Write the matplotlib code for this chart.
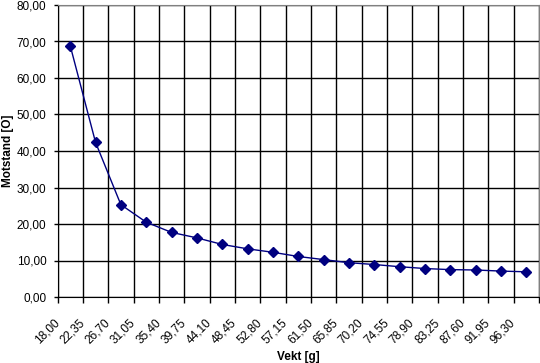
import numpy as np
import matplotlib
matplotlib.use("Agg")
import matplotlib.pyplot as plt
import matplotlib.transforms as mtransforms

plt.rcParams['font.family'] = ['Liberation Sans', 'DejaVu Sans']

# Data
vekt = ["18,00", "22,35", "26,70", "31,05", "35,40", "39,75", "44,10",
        "48,45", "52,80", "57,15", "61,50", "65,85", "70,20", "74,55",
        "78,90", "83,25", "87,60", "91,95", "96,30"]
motstand = [68.9, 42.4, 25.3, 20.5, 17.7, 16.2, 14.4, 13.2, 12.25, 11.1,
            10.25, 9.4, 8.9, 8.3, 7.8, 7.5, 7.4, 7.1, 6.9]
y_ticks = [0, 10, 20, 30, 40, 50, 60, 70, 80]

fig = plt.figure(figsize=(5.4, 3.63), dpi=100)
ax = fig.add_axes([57.5 / 540, 1 - 297 / 363, (539 - 57.5) / 540, (297 - 5) / 363])

x = np.arange(len(vekt))
ax.plot(x, motstand, color="#000080", lw=1.0, marker="D", markersize=5,
        markerfacecolor="#000080", markeredgecolor="#000080", zorder=3)

ax.set_xlim(-0.5, len(vekt) - 0.5)
ax.set_ylim(0, 80)
ax.set_yticks(y_ticks)
ax.set_yticklabels(["%d,00" % v for v in y_ticks])

# category boundaries carry the ticks and the grid
bounds = np.arange(len(vekt) + 1) - 0.5
ax.set_xticks(bounds)
ax.set_xticklabels(vekt + [""], rotation=45, ha="right", va="center",
                   rotation_mode="anchor")
offset = mtransforms.ScaledTranslation(10 / 100, 2 / 100, fig.dpi_scale_trans)
for lab in ax.get_xticklabels():
    lab.set_transform(lab.get_transform() + offset)

ax.grid(True, color="black", lw=1.0)
ax.set_axisbelow(True)
ax.tick_params(axis="x", length=4, width=1, pad=13, labelsize=8.5)
ax.tick_params(axis="y", length=3, width=1, pad=5, labelsize=8.5)

for s in ["left", "bottom"]:
    ax.spines[s].set_color("black")
for s in ["top", "right"]:
    ax.spines[s].set_color("#808080")

ax.set_xlabel("Vekt [g]", fontsize=8.5, fontweight="bold", labelpad=4)
ax.set_ylabel("Motstand [O]", fontsize=8.5, fontweight="bold", labelpad=2)

fig.savefig("out.png", dpi=100)
